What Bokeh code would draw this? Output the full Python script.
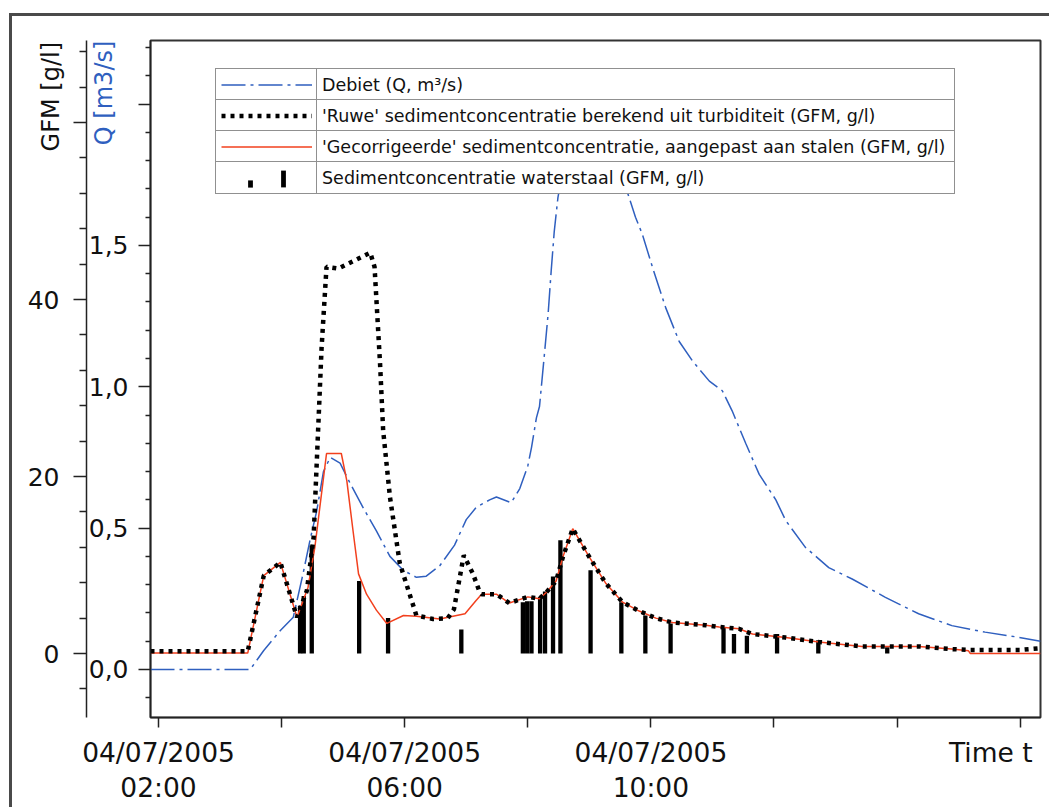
import math
from bokeh.plotting import figure
from bokeh.models import (Range1d, LinearAxis, FixedTicker, Legend, LegendItem)
from bokeh.embed import file_html
from bokeh.resources import INLINE

# ---------------- data (time in hours on 04/07/2005) ----------------
t_q = [1.87, 3.49, 3.71, 3.98, 4.19, 4.35, 4.46, 4.57, 4.68, 4.79, 4.95, 5.11,
       5.33, 5.54, 5.76, 5.98, 6.19, 6.35, 6.57, 6.81, 7.00, 7.16, 7.38, 7.49,
       7.73, 7.87, 8.00, 8.06, 8.14, 8.19, 8.27, 8.33, 8.38, 8.43, 8.49, 8.70,
       9.05, 9.40, 9.62, 9.75, 9.86, 10.03, 10.24, 10.46, 10.68, 10.95, 11.16,
       11.32, 11.54, 11.76, 12.03, 12.19, 12.51, 12.89, 13.27, 13.81, 14.35,
       14.89, 15.43, 15.97, 16.33]
q_debiet = [0.0, 0.0, 0.067, 0.138, 0.185, 0.34, 0.456, 0.56, 0.70, 0.75, 0.73,
            0.66, 0.57, 0.49, 0.40, 0.35, 0.326, 0.33, 0.367, 0.44, 0.53, 0.573,
            0.60, 0.61, 0.59, 0.64, 0.72, 0.785, 0.89, 0.93, 1.115, 1.257, 1.41,
            1.55, 1.67, 1.92, 2.02, 1.90, 1.687, 1.60, 1.54, 1.42, 1.28, 1.16,
            1.09, 1.02, 0.986, 0.915, 0.80, 0.69, 0.60, 0.527, 0.432, 0.36,
            0.32, 0.255, 0.197, 0.155, 0.132, 0.114, 0.10]

t_ruwe = [1.87, 3.45, 3.71, 3.98, 4.25, 4.41, 4.52, 4.57, 4.65, 4.73, 4.92,
          5.44, 5.51, 5.60, 5.65, 5.76, 5.92, 6.19, 6.46, 6.70, 6.80, 6.96,
          7.11, 7.22, 7.25, 7.49, 7.70, 8.00, 8.19, 8.30, 8.46, 8.57, 8.73,
          9.00, 9.27, 9.54, 9.81, 10.08, 10.35, 10.89, 11.11, 11.43, 11.65,
          12.19, 12.73, 13.43, 14.35, 14.89, 15.16, 16.00, 16.33]
gfm_ruwe = [0.25, 0.25, 8.8, 10.3, 4.1, 7.1, 13.1, 21.4, 34.6, 43.7, 43.5,
            45.3, 43.7, 32.7, 25.2, 17.7, 10.2, 4.3, 3.9, 4.0, 5.0, 11.1,
            9.0, 6.9, 6.7, 6.7, 5.7, 6.4, 6.2, 6.9, 8.2, 10.9, 14.1,
            10.9, 7.9, 5.8, 4.8, 4.0, 3.5, 3.2, 3.0, 2.8, 2.2,
            1.8, 1.3, 0.8, 0.8, 0.5, 0.4, 0.4, 0.6]

t_corr = [1.87, 3.45, 3.71, 3.98, 4.25, 4.43, 4.54, 4.73, 4.97, 5.06, 5.16,
          5.25, 5.38, 5.54, 5.71, 5.98, 6.19, 6.57, 6.98, 7.16, 7.25, 7.49,
          7.70, 8.00, 8.19, 8.30, 8.46, 8.57, 8.73, 9.00, 9.27, 9.54, 9.81,
          10.08, 10.35, 10.89, 11.11, 11.43, 11.65, 12.19, 12.73, 13.43, 14.35,
          14.89, 15.16, 15.19, 16.33]
gfm_corr = [0.05, 0.05, 8.8, 10.3, 4.1, 7.5, 12.0, 22.6, 22.6, 19.5, 13.9,
            9.0, 6.7, 4.9, 3.4, 4.3, 4.2, 3.9, 4.5, 6.0, 6.7, 6.7,
            5.7, 6.4, 6.2, 6.9, 8.2, 10.9, 14.1, 10.9, 7.9, 5.8, 4.8,
            4.0, 3.5, 3.2, 3.0, 2.8, 2.2, 1.8, 1.3, 0.8, 0.8,
            0.5, 0.3, 0.0, 0.0]

t_staal = [4.30, 4.36, 4.49, 5.26, 5.73, 6.92, 7.92, 7.99, 8.06, 8.20, 8.28,
           8.41, 8.53, 9.02, 9.52, 9.91, 10.32, 11.18, 11.35, 11.56, 12.05,
           12.72, 13.84]
gfm_staal = [5.4, 6.5, 12.2, 8.2, 4.0, 2.7, 5.8, 5.9, 5.9, 6.4, 7.0,
             8.7, 12.8, 9.4, 5.8, 4.3, 3.4, 2.9, 2.2, 2.0, 2.2,
             1.5, 0.7]

NB = "\u00a0"
x_ticks = [2, 4, 6, 8, 10, 12, 14, 16]
x_tick_labels = ["04/07/2005\n02:00", "", "04/07/2005\n06:00", "",
                 "04/07/2005\n10:00", "", "", "Time t" + NB * 2]
q_ticks = [0, 0.5, 1.0, 1.5, 2.0]
q_tick_labels = ["0,0", "0,5", "1,0", "1,5", ""]
q_minor = [-0.1, 0.1, 0.2, 0.3, 0.4, 0.6, 0.7, 0.8, 0.9, 1.1, 1.2, 1.3, 1.4,
           1.6, 1.7, 1.8, 1.9, 2.1, 2.2]
g_ticks = [0, 20, 40, 60]
g_tick_labels = ["0", "20", "40", ""]
g_minor = [-4, 4, 8, 12, 16, 24, 28, 32, 36, 44, 48, 52, 56, 64, 68]

q_title = "Q [m3/s]"
g_title = "GFM [g/l]"
legend_labels = ["Debiet (Q, m³/s)",
                 "'Ruwe' sedimentconcentratie berekend uit turbiditeit (GFM, g/l)",
                 "'Gecorrigeerde' sedimentconcentratie, aangepast aan stalen (GFM, g/l)",
                 "Sedimentconcentratie waterstaal (GFM, g/l)"]

# ---------------- styling ----------------
FONT = "DejaVu Sans"
BLUE = "#2f5fbf"
RED = "#f2401e"
DARK = "#222222"

p = figure(width=1049, height=807, output_backend="svg", toolbar_location=None,
           x_range=Range1d(1.87, 16.33), y_range=Range1d(-7.23, 69.27),
           x_axis_location=None, y_axis_location=None,
           min_border_left=150, min_border_right=9, min_border_top=40,
           min_border_bottom=90)
p.extra_y_ranges = {"q": Range1d(-0.170, 2.225)}
p.grid.visible = False
p.outline_line_color = "#333333"
p.outline_line_width = 2
p.background_fill_color = "white"
p.border_fill_alpha = 0
p.styles = {"box-shadow": "inset 9px 13px 0 0 #ffffff, inset 12px 16px 0 0 #4a4a4a",
            "background-color": "#ffffff"}


def style_axis(ax, tick_out, minor_out):
    ax.axis_line_color = DARK
    ax.axis_line_width = 1.5
    ax.major_tick_line_color = DARK
    ax.major_tick_line_width = 1.5
    ax.minor_tick_line_color = DARK
    ax.minor_tick_line_width = 1.5
    ax.major_tick_in = 0
    ax.major_tick_out = tick_out
    ax.minor_tick_in = 0
    ax.minor_tick_out = minor_out
    ax.major_label_text_font = FONT
    ax.major_label_text_font_size = "25px"
    ax.major_label_text_color = "#111111"
    ax.major_label_standoff = 10
    ax.axis_label_text_font = FONT
    ax.axis_label_text_font_size = "24px"
    ax.axis_label_text_font_style = "normal"


def set_title(ax, text, pad, standoff, color):
    # centred axis title, pushed to the top end of the axis with leading no-break spaces
    ax.axis_label = NB * pad + text
    ax.axis_label_standoff = standoff
    ax.axis_label_text_color = color


xaxis = LinearAxis(ticker=FixedTicker(ticks=x_ticks, minor_ticks=[]),
                   major_label_overrides=dict(zip(x_ticks, x_tick_labels)))
style_axis(xaxis, 10, 0)
xaxis.major_label_text_font_size = "26.5px"
xaxis.major_label_standoff = 9
xaxis.major_label_text_line_height = 1.15
p.add_layout(xaxis, "below")

qaxis = LinearAxis(y_range_name="q",
                   ticker=FixedTicker(ticks=q_ticks, minor_ticks=q_minor),
                   major_label_overrides=dict(zip(q_ticks, q_tick_labels)))
style_axis(qaxis, 12, 5)
set_title(qaxis, q_title, 75, -32, BLUE)
p.add_layout(qaxis, "left")

gaxis = LinearAxis(ticker=FixedTicker(ticks=g_ticks, minor_ticks=g_minor),
                   major_label_overrides=dict(zip(g_ticks, g_tick_labels)))
style_axis(gaxis, 13, 7)
gaxis.major_label_text_align = "center"
gaxis.major_label_standoff = 14
set_title(gaxis, g_title, 74, -40, "#111111")
p.add_layout(gaxis, "left")

# ---------------- data renderers ----------------
r_q = p.line(t_q, q_debiet, y_range_name="q", line_color=BLUE, line_width=1.5,
             line_dash="24 5 3 5")
r_bar = p.vbar(x=t_staal, top=gfm_staal, bottom=0, width=0.07,
               fill_color="black", line_color=None)
r_corr = p.line(t_corr, gfm_corr, line_color=RED, line_width=1.5)
r_ruwe = p.line(t_ruwe, gfm_ruwe, line_color="black", line_width=4.5,
                line_dash="4 5")
r_text = p.scatter(x=[], y=[], size=1, fill_alpha=0, line_alpha=0)

# ---------------- legend drawn as a 4x2 table ----------------
common = dict(orientation="vertical", padding=5, margin=0, spacing=0,
              border_line_color=DARK, border_line_width=1.5,
              background_fill_color="white", background_fill_alpha=1.0,
              label_text_font=FONT, label_text_font_size="17.5px",
              label_text_color="#111111", glyph_height=21, label_height=19)
for i, (lab, r) in enumerate(zip(legend_labels, [r_q, r_ruwe, r_corr, r_text])):
    vy = 616 - 31 * i
    p.add_layout(Legend(items=[LegendItem(label="", renderers=[r])],
                        location=(65, vy), glyph_width=91,
                        label_standoff=0, label_width=0, **common), "center")
    p.add_layout(Legend(items=[LegendItem(label=lab, renderers=[r_text])],
                        location=(166, vy), glyph_width=0,
                        label_standoff=0, label_width=627, **common), "center")

# the two sample bars of the last legend row
for vx, vy, gh in [(96.5, 529, 9), (129.5, 528, 21)]:
    p.add_layout(Legend(items=[LegendItem(label="", renderers=[r_bar])],
                        location=(vx, vy), orientation="vertical", padding=0,
                        margin=0, spacing=0, glyph_width=6, glyph_height=gh,
                        label_height=0, label_width=0, label_standoff=0,
                        label_text_font_size="1px", border_line_alpha=0,
                        background_fill_alpha=0), "center")

open("out.html", "w").write(file_html(p, INLINE))
